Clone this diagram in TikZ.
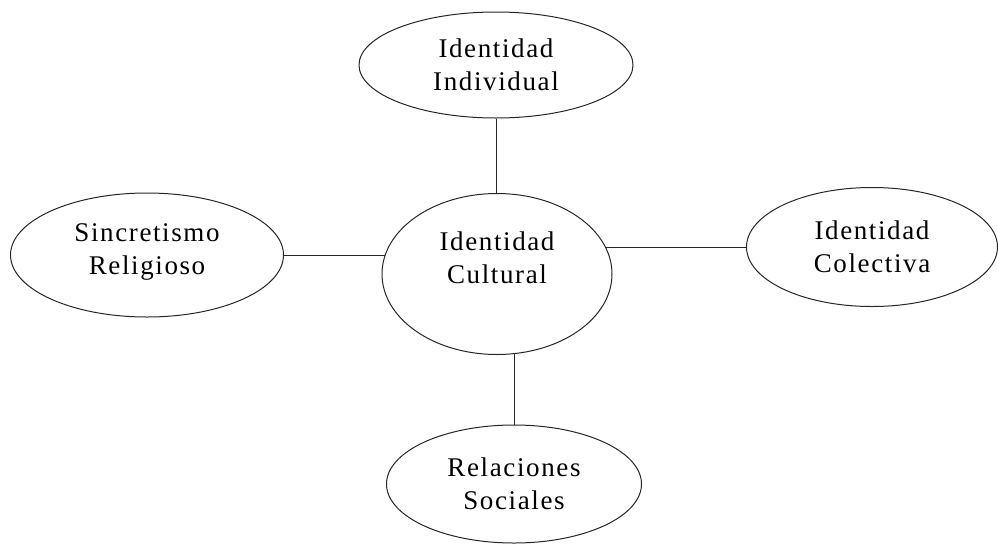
\documentclass[tikz,border=0pt]{standalone}
\usepackage{fontspec}
\setmainfont{Liberation Serif}[LetterSpace=6]
\usetikzlibrary{shapes.geometric}
\tikzset{
	bulle/.style={ellipse,draw=black!85,line width=1pt,align=center,inner sep=3pt,
		font=\fontsize{27}{33}\selectfont},
	lien/.style={draw=black!85,line width=1pt}
}
\begin{document}
\begin{tikzpicture}[x=1pt,y=-1pt]
	\useasboundingbox (0,0) rectangle (998,544);
	%Centre
	\node[bulle,minimum width=230pt,minimum height=161pt,text depth=32pt] (cultural) at (497,274) {Identidad\\Cultural};
	%Autour
	\node[bulle,minimum width=274pt,minimum height=106pt] (individual) at (496,65) {Identidad\\Individual};
	\node[bulle,minimum width=273pt,minimum height=124pt,text depth=12pt] (sincretismo) at (147,255) {Sincretismo\\Religioso};
	\node[bulle,minimum width=251pt,minimum height=119pt] (colectiva) at (872,247) {Identidad\\Colectiva};
	\node[bulle,minimum width=255pt,minimum height=118pt] (sociales) at (514,484) {Relaciones\\Sociales};
	%Liens
	\draw[lien] (individual.south) -- (individual.south |- cultural.north);
	\draw[lien] (sincretismo.east) -- (sincretismo.east -| cultural.170);
	\draw[lien] (colectiva.west) -- (colectiva.west -| cultural.14);
	\draw[lien] (sociales.north) -- (sociales.north |- cultural.-79);
\end{tikzpicture}
\end{document}
